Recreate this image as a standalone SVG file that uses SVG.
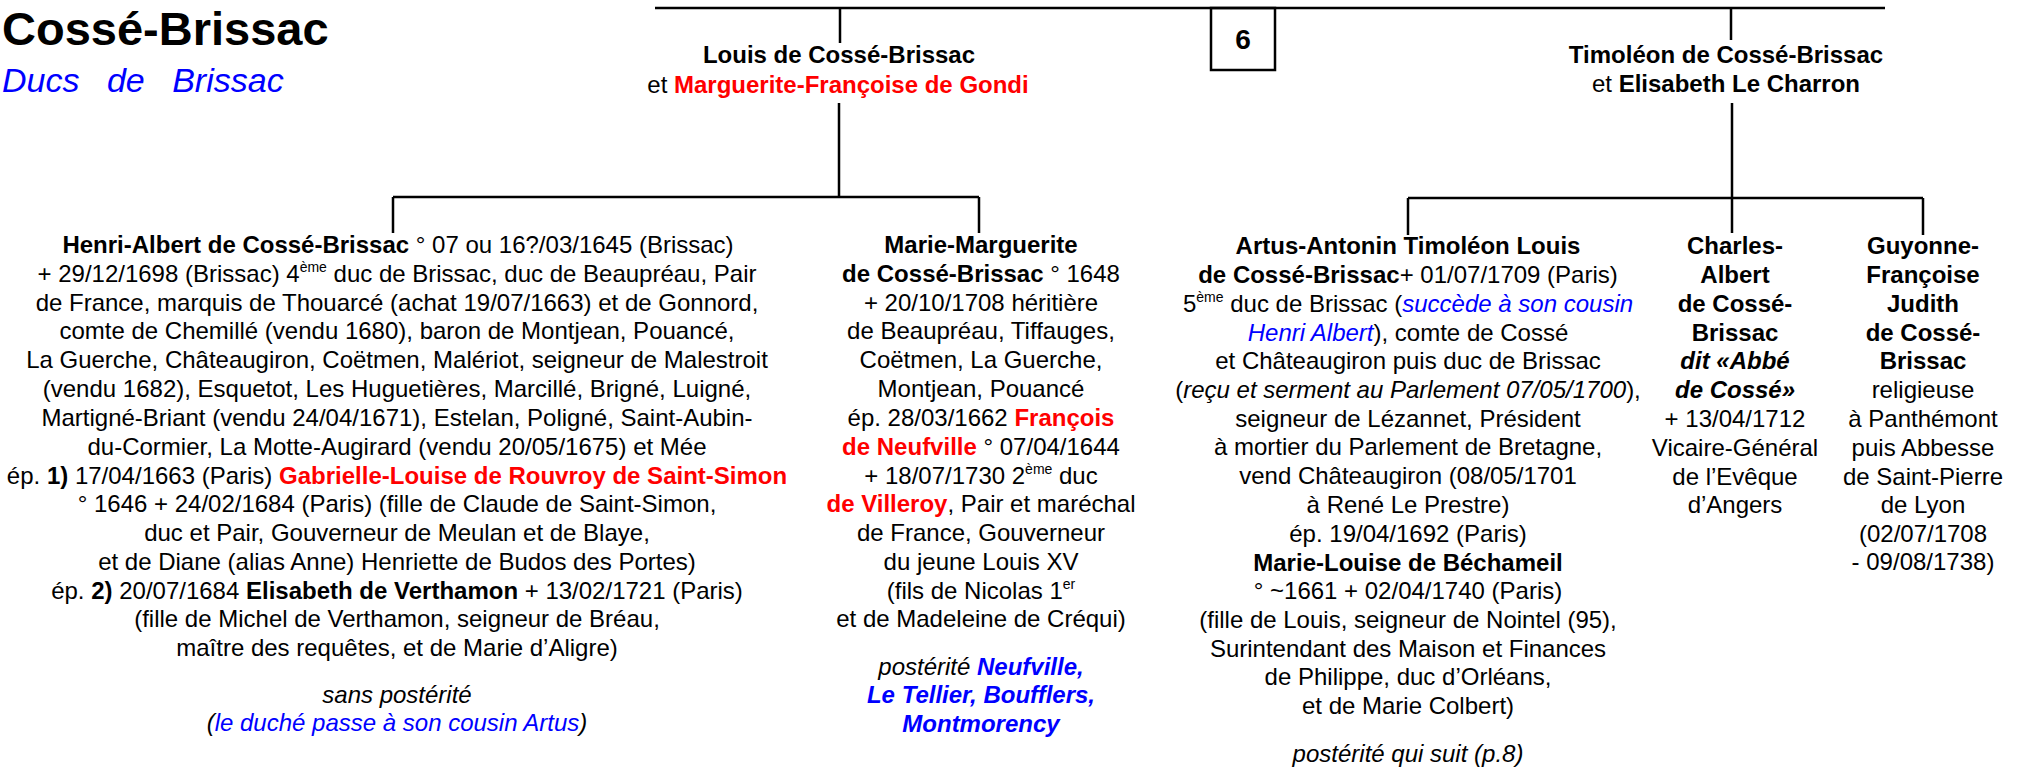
<svg xmlns="http://www.w3.org/2000/svg" width="2021" height="770" viewBox="0 0 2021 770">
<style>
text{font-family:"Liberation Sans",Arial,sans-serif;font-size:24px;fill:#000;text-anchor:middle}
.b{font-weight:bold}
.i{font-style:italic}
.r{fill:#ff0000}
.bl{fill:#0000ff}
.sup{font-size:14px}
.ln{stroke:#000;stroke-width:2.5;fill:none}
</style>
<rect width="2021" height="770" fill="#fff"/>
<g id="title">
<text x="2" y="45" class="b" style="font-size:47px;text-anchor:start">Cossé-Brissac</text>
<text x="2" y="92" class="i bl" style="font-size:34px;text-anchor:start;word-spacing:18px">Ducs de Brissac</text>
</g>
<g id="connectors">
<path class="ln" d="M655,8 H1885 M840,8 V43 M1731,8 V40 M839,103 V197 M393,197 H979 M393,197 V233 M979,197 V233 M1732,103 V233 M1408,198 H1923 M1408,198 V235 M1923,198 V235"/>
</g>
<g id="box6">
<rect class="ln" x="1211" y="8" width="64" height="62"/>
<text x="1243" y="49" class="b" style="font-size:28px">6</text>
</g>
<g id="louis">
<text x="839" y="63" class="b">Louis de Cossé-Brissac</text>
<text x="838" y="93">et <tspan class="b r">Marguerite-Françoise de Gondi</tspan></text>
</g>
<g id="timoleon">
<text x="1726" y="63" class="b">Timoléon de Cossé-Brissac</text>
<text x="1726" y="92">et <tspan class="b">Elisabeth Le Charron</tspan></text>
</g>
<g id="henri">
<text x="398" y="253"><tspan class="b">Henri-Albert de Cossé-Brissac</tspan> ° 07 ou 16?/03/1645 (Brissac)</text>
<text x="397" y="282">+ 29/12/1698 (Brissac) 4<tspan class="sup" dy="-10">ème</tspan><tspan dy="10"> duc de Brissac, duc de Beaupréau, Pair</tspan></text>
<text x="397" y="311">de France, marquis de Thouarcé (achat 19/07/1663) et de Gonnord,</text>
<text x="397" y="339">comte de Chemillé (vendu 1680), baron de Montjean, Pouancé,</text>
<text x="397" y="368">La Guerche, Châteaugiron, Coëtmen, Malériot, seigneur de Malestroit</text>
<text x="397" y="397">(vendu 1682), Esquetot, Les Huguetières, Marcillé, Brigné, Luigné,</text>
<text x="397" y="426">Martigné-Briant (vendu 24/04/1671), Estelan, Poligné, Saint-Aubin-</text>
<text x="397" y="455">du-Cormier, La Motte-Augirard (vendu 20/05/1675) et Mée</text>
<text x="397" y="484">ép. <tspan class="b">1)</tspan> 17/04/1663 (Paris) <tspan class="b r">Gabrielle-Louise de Rouvroy de Saint-Simon</tspan></text>
<text x="397" y="512">° 1646 + 24/02/1684 (Paris) (fille de Claude de Saint-Simon,</text>
<text x="397" y="541">duc et Pair, Gouverneur de Meulan et de Blaye,</text>
<text x="397" y="570">et de Diane (alias Anne) Henriette de Budos des Portes)</text>
<text x="397" y="599">ép. <tspan class="b">2)</tspan> 20/07/1684 <tspan class="b">Elisabeth de Verthamon</tspan> + 13/02/1721 (Paris)</text>
<text x="397" y="627">(fille de Michel de Verthamon, seigneur de Bréau,</text>
<text x="397" y="656">maître des requêtes, et de Marie d’Aligre)</text>
<text x="397" y="703" class="i">sans postérité</text>
<text x="397" y="731" class="i">(<tspan class="bl">le duché passe à son cousin Artus</tspan>)</text>
</g>
<g id="marie">
<text x="981" y="253" class="b">Marie-Marguerite</text>
<text x="981" y="282"><tspan class="b">de Cossé-Brissac</tspan> ° 1648</text>
<text x="981" y="311">+ 20/10/1708 héritière</text>
<text x="981" y="339">de Beaupréau, Tiffauges,</text>
<text x="981" y="368">Coëtmen, La Guerche,</text>
<text x="981" y="397">Montjean, Pouancé</text>
<text x="981" y="426">ép. 28/03/1662 <tspan class="b r">François</tspan></text>
<text x="981" y="455"><tspan class="b r">de Neufville</tspan> ° 07/04/1644</text>
<text x="981" y="484">+ 18/07/1730 2<tspan class="sup" dy="-10">ème</tspan><tspan dy="10"> duc</tspan></text>
<text x="981" y="512"><tspan class="b r">de Villeroy</tspan>, Pair et maréchal</text>
<text x="981" y="541">de France, Gouverneur</text>
<text x="981" y="570">du jeune Louis XV</text>
<text x="981" y="599">(fils de Nicolas 1<tspan class="sup" dy="-10">er</tspan></text>
<text x="981" y="627">et de Madeleine de Créqui)</text>
<text x="981" y="675" class="i">postérité <tspan class="b bl">Neufville,</tspan></text>
<text x="981" y="703" class="i b bl">Le Tellier, Boufflers,</text>
<text x="981" y="732" class="i b bl">Montmorency</text>
</g>
<g id="artus">
<text x="1408" y="254" class="b">Artus-Antonin Timoléon Louis</text>
<text x="1408" y="283"><tspan class="b">de Cossé-Brissac</tspan>+ 01/07/1709 (Paris)</text>
<text x="1408" y="312">5<tspan class="sup" dy="-10">ème</tspan><tspan dy="10"> duc de Brissac (</tspan><tspan class="i bl">succède à son cousin</tspan></text>
<text x="1408" y="341"><tspan class="i bl">Henri Albert</tspan>), comte de Cossé</text>
<text x="1408" y="369">et Châteaugiron puis duc de Brissac</text>
<text x="1408" y="398">(<tspan class="i">reçu  et serment au Parlement 07/05/1700</tspan>),</text>
<text x="1408" y="427">seigneur de Lézannet, Président</text>
<text x="1408" y="455">à mortier du Parlement de Bretagne,</text>
<text x="1408" y="484">vend Châteaugiron (08/05/1701</text>
<text x="1408" y="513">à René Le Prestre)</text>
<text x="1408" y="542">ép. 19/04/1692 (Paris)</text>
<text x="1408" y="571" class="b">Marie-Louise de Béchameil</text>
<text x="1408" y="599">° ~1661 + 02/04/1740 (Paris)</text>
<text x="1408" y="628">(fille de Louis, seigneur de Nointel (95),</text>
<text x="1408" y="657">Surintendant des Maison et Finances</text>
<text x="1408" y="685">de Philippe, duc d’Orléans,</text>
<text x="1408" y="714">et de Marie Colbert)</text>
<text x="1408" y="762" class="i">postérité qui suit (p.8)</text>
</g>
<g id="charles">
<text x="1735" y="254" class="b">Charles-</text>
<text x="1735" y="283" class="b">Albert</text>
<text x="1735" y="312" class="b">de Cossé-</text>
<text x="1735" y="341" class="b">Brissac</text>
<text x="1735" y="369" class="b i">dit «Abbé</text>
<text x="1735" y="398" class="b i">de Cossé»</text>
<text x="1735" y="427">+ 13/04/1712</text>
<text x="1735" y="456">Vicaire-Général</text>
<text x="1735" y="485">de l’Evêque</text>
<text x="1735" y="513">d’Angers</text>
</g>
<g id="guyonne">
<text x="1923" y="254" class="b">Guyonne-</text>
<text x="1923" y="283" class="b">Françoise</text>
<text x="1923" y="312" class="b">Judith</text>
<text x="1923" y="341" class="b">de Cossé-</text>
<text x="1923" y="369" class="b">Brissac</text>
<text x="1923" y="398">religieuse</text>
<text x="1923" y="427">à Panthémont</text>
<text x="1923" y="456">puis Abbesse</text>
<text x="1923" y="485">de Saint-Pierre</text>
<text x="1923" y="513">de Lyon</text>
<text x="1923" y="542">(02/07/1708</text>
<text x="1923" y="570">- 09/08/1738)</text>
</g>
</svg>
